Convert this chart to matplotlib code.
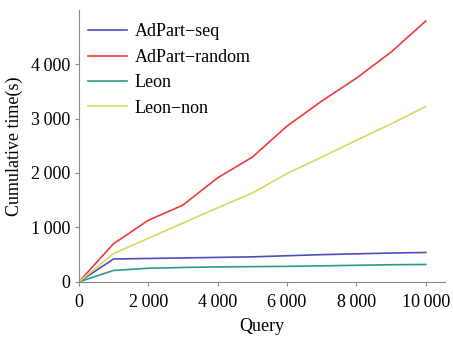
import matplotlib
matplotlib.use("Agg")
import matplotlib.pyplot as plt
from matplotlib.ticker import FuncFormatter

queries = [0, 1000, 2000, 3000, 4000, 5000, 6000, 7000, 8000, 9000, 10000]
adpart_seq = [0, 420, 430, 440, 450, 460, 480, 500, 515, 530, 540]
adpart_random = [0, 700, 1130, 1410, 1910, 2290, 2860, 3320, 3740, 4220, 4790]
leon = [0, 210, 250, 265, 275, 280, 285, 295, 305, 315, 320]
leon_non = [0, 520, 800, 1080, 1360, 1630, 1990, 2290, 2600, 2900, 3220]

series_names = ["AdPart\u2212seq", "AdPart\u2212random", "Leon", "Leon\u2212non"]
colors = ["#4a4fc0", "#ee3b3b", "#2a9a8a", "#d8d860"]

plt.rcParams['font.family'] = ['Liberation Serif', 'DejaVu Serif']

fig = plt.figure(figsize=(4.53, 3.38), dpi=100)
ax = fig.add_axes([0.174, 0.166, 0.808, 0.804])

for vals, name, c in zip([adpart_seq, adpart_random, leon, leon_non], series_names, colors):
    ax.plot(queries, vals, color=c, lw=1.2, label=name)

ax.set_xlim(0, 10550)
ax.set_ylim(0, 4990)
ax.set_xticks([0, 2000, 4000, 6000, 8000, 10000])
ax.set_yticks([0, 1000, 2000, 3000, 4000])
fmt = FuncFormatter(lambda v, p: f"{int(v):,}".replace(",", "\u2009"))
ax.xaxis.set_major_formatter(fmt)
ax.yaxis.set_major_formatter(fmt)
ax.tick_params(labelsize=13, length=3, color="#888888", pad=3)
ax.tick_params(axis="x", pad=6)

for s in ["top", "right"]:
    ax.spines[s].set_visible(False)
for s in ["left", "bottom"]:
    ax.spines[s].set_color("#888888")

ax.set_xlabel("Query", fontsize=13, labelpad=5)
ax.set_ylabel("Cumulative time(s)", fontsize=13, labelpad=6)

ax.legend(loc="upper left", frameon=False, fontsize=13, handlelength=2.15,
          handletextpad=0.45, borderaxespad=0,
          bbox_to_anchor=(0.005, 0.978), labelspacing=0.47)

fig.savefig("out.png", dpi=100)
